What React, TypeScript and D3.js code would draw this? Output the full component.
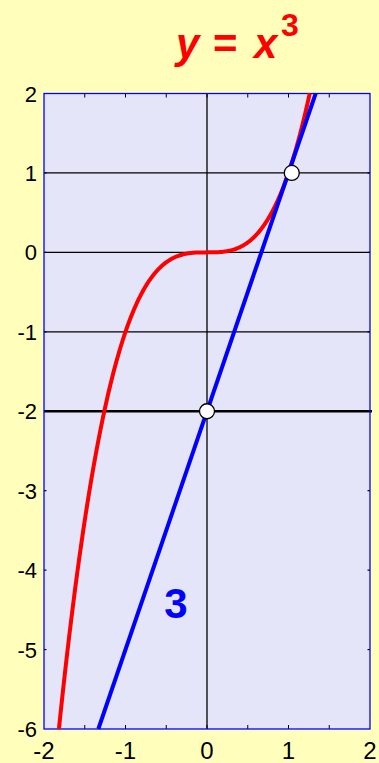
import React from "react";
import * as d3 from "d3";

const xTicks = [-2, -1, 0, 1, 2];
const yTicks = [2, 1, 0, -1, -2, -3, -4, -5, -6];
const minorXTicks = [-1.5, -1, -0.5, 0, 0.5, 1, 1.5];
const sideYTicks = [1, 0, -1, -2, -3, -4, -5];
const gridY = [1, 0, -1];
const boldGridY = [-2];
const gridX = [0];
const pointsX = [1.04, 0];
const pointsY = [1, -2];
const tangentSlope = 3;
const tangentIntercept = -2;
const labelText = "3";

const W = 379;
const H = 763;
const L = 44, R = 370, T = 93.5, B = 729;

export default function App() {
  const x = d3.scaleLinear().domain([-2, 2]).range([L, R]);
  const y = d3.scaleLinear().domain([-6, 2]).range([B, T]);

  const xmin = Math.cbrt(-6), xmax = Math.cbrt(2);
  const cubeData = d3.range(0, 301).map((i) => {
    const xv = xmin + ((xmax - xmin) * i) / 300;
    return [xv, xv * xv * xv] as [number, number];
  });
  const line = d3.line<[number, number]>().x((d) => x(d[0])).y((d) => y(d[1]));
  const tx0 = (-6 - tangentIntercept) / tangentSlope;
  const tx1 = (2 - tangentIntercept) / tangentSlope;
  const tangentData: [number, number][] = [
    [tx0, tangentSlope * tx0 + tangentIntercept],
    [tx1, tangentSlope * tx1 + tangentIntercept],
  ];

  const font = "Liberation Sans, Arial, sans-serif";

  return (
    <svg width={W} height={H} style={{ position: "absolute", left: 0, top: 0 }}>
      <rect x={0} y={0} width={W} height={H} fill="#FFFFBB" />
      <rect x={L} y={T} width={R - L} height={B - T} fill="#E5E5FA" />
      {gridY.map((v) => (
        <line key={"gy" + v} x1={L} x2={R} y1={y(v)} y2={y(v)} stroke="#000" strokeWidth={1.3} />
      ))}
      {boldGridY.map((v) => (
        <line key={"by" + v} x1={L} x2={R + 2} y1={y(v)} y2={y(v)} stroke="#000" strokeWidth={2.4} />
      ))}
      {gridX.map((v) => (
        <line key={"gx" + v} x1={x(v)} x2={x(v)} y1={T} y2={B} stroke="#000" strokeWidth={1.3} />
      ))}
      {minorXTicks.map((v) => (
        <g key={"mt" + v}>
          <line x1={x(v)} x2={x(v)} y1={B} y2={B - 4} stroke="#000" strokeWidth={1} />
          <line x1={x(v)} x2={x(v)} y1={T} y2={T + 4} stroke="#000" strokeWidth={1} />
        </g>
      ))}
      {sideYTicks.map((v) => (
        <g key={"st" + v}>
          <line x1={L} x2={L + 2.5} y1={y(v)} y2={y(v)} stroke="#000" strokeWidth={1.2} />
          <line x1={R} x2={R - 2.5} y1={y(v)} y2={y(v)} stroke="#000" strokeWidth={1.2} />
        </g>
      ))}
      <rect x={L} y={T} width={R - L} height={B - T} fill="none" stroke="#0000FF" strokeWidth={1.3} />
      <path d={line(cubeData) || ""} fill="none" stroke="#FF0000" strokeWidth={4} />
      <path d={line(tangentData) || ""} fill="none" stroke="#0000FF" strokeWidth={4} />
      {pointsX.map((v, i) => (
        <circle key={"p" + i} cx={x(v)} cy={y(pointsY[i])} r={7.5} fill="#fff" stroke="#000" strokeWidth={1.3} />
      ))}
      {yTicks.map((v) => (
        <text key={"yt" + v} x={37} y={y(v) + 8} textAnchor="end" fontFamily={font} fontSize={22} fill="#000">
          {v}
        </text>
      ))}
      {xTicks.map((v) => (
        <text key={"xt" + v} x={x(v)} y={759} textAnchor="middle" fontFamily={font} fontSize={24} fill="#000">
          {v}
        </text>
      ))}
      <g fontFamily={font} fontWeight="bold" fill="#FF0000">
        <text x={176} y={58} fontSize={42} fontStyle="italic">y</text>
        <text x={213} y={58} fontSize={42}>=</text>
        <text x={254} y={58} fontSize={42} fontStyle="italic">x</text>
        <text x={281} y={36} fontSize={32}>3</text>
      </g>
      <text x={x(-0.38)} y={y(-4.6)} textAnchor="middle" fontFamily={font} fontSize={42} fontWeight="bold" fill="#0000FF">
        {labelText}
      </text>
    </svg>
  );
}
